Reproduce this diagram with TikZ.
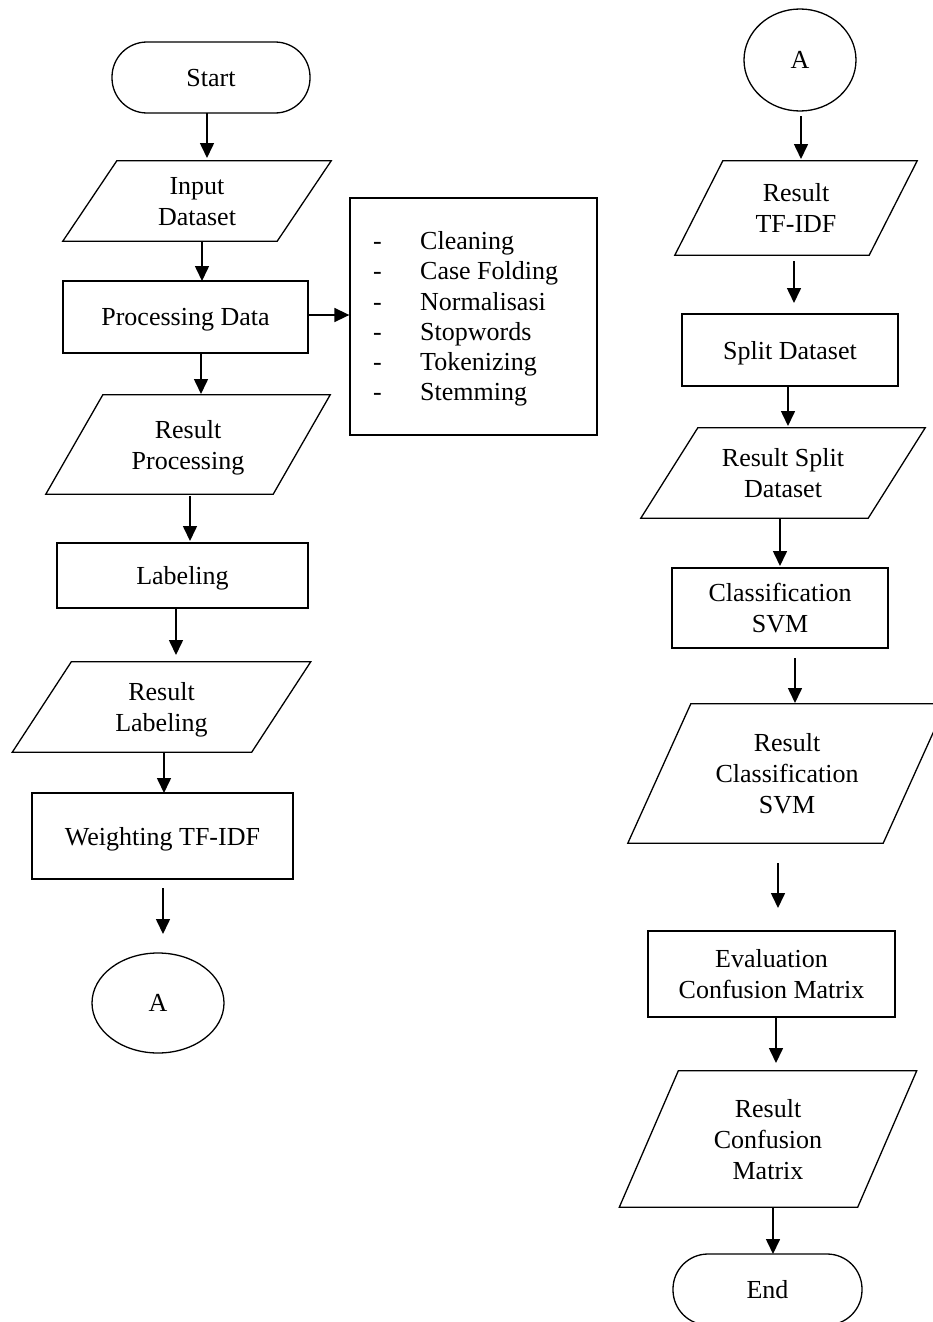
\documentclass[tikz,border=0pt]{standalone}
\usepackage{fontspec}
\setmainfont{Liberation Serif}
\usetikzlibrary{arrows.meta,shapes.geometric}
\tikzset{
  ln/.style={line width=1.3pt},
  every node/.style={font=\fontsize{26}{31}\selectfont},
  procbox/.style={draw, ln, rectangle, align=center, inner sep=0pt, text depth=0pt},
  termbox/.style={draw, ln, rectangle, rounded corners=35pt, align=center, inner sep=0pt, text depth=0pt},
  connbox/.style={draw, ln, ellipse, inner sep=0pt},
  iotext/.style={align=center, inner sep=0pt, text depth=0pt},
  arr/.style={line width=1.6pt, -{Triangle[width=14pt,length=15pt]}}
}
\newcommand{\iopara}[7]{%
  \node[iotext, minimum width=#4pt, minimum height=#5pt] (#1) at (#2,#3) {#7};
  \draw[ln, line join=miter] ([xshift=#6pt/2]#1.north west) -- ([xshift=#6pt/2]#1.north east)
    -- ([xshift=-#6pt/2]#1.south east) -- ([xshift=-#6pt/2]#1.south west) -- cycle;
}
\newcommand{\varrow}[4]{%
  \coordinate (#1s) at (#2,#3);
  \coordinate (#1e) at (#2,#4);
  \draw[arr] (#1s) -- (#1e);
}
\begin{document}
\begin{tikzpicture}[x=1pt,y=-1pt]
\useasboundingbox (0,0) rectangle (933,1322);
\clip (0,0) rectangle (933,1322);
\fill[white] (0,0) rectangle (933,1322);

% ---------- left column ----------
\node[termbox, minimum width=198pt, minimum height=71pt] (start) at (211,77.5) {Start};
\varrow{a1}{207}{113}{158}
\iopara{input}{197}{201}{214}{80}{54}{Input\\Dataset}
\varrow{a2}{202}{241}{281}
\node[procbox, minimum width=245pt, minimum height=72pt] (proc) at (185.5,317) {Processing Data};
\coordinate (a3s) at (308,315);
\node[procbox, minimum width=247pt, minimum height=237pt] (list) at (473.5,316.5) {};
\draw[arr] (a3s) -- (list.west |- a3s);
\node[anchor=west, align=left, inner sep=0pt, font=\fontsize{26}{30.2}\selectfont] (listtxt) at (373,319)
  {\makebox[47pt][l]{-}Cleaning\\
   \makebox[47pt][l]{-}Case Folding\\
   \makebox[47pt][l]{-}Normalisasi\\
   \makebox[47pt][l]{-}Stopwords\\
   \makebox[47pt][l]{-}Tokenizing\\
   \makebox[47pt][l]{-}Stemming};
\varrow{a4}{201}{353}{394}
\iopara{resproc}{188}{444.5}{227}{99}{57}{Result\\Processing}
\varrow{a5}{190}{496}{541}
\node[procbox, minimum width=251pt, minimum height=65pt] (label) at (182.5,575.5) {Labeling};
\varrow{a6}{176}{608}{655}
\iopara{reslab}{161.5}{707}{239}{90}{59}{Result\\Labeling}
\varrow{a7}{164}{752}{793}
\node[procbox, minimum width=261pt, minimum height=86pt] (tfidf) at (162.5,836) {Weighting TF-IDF};
\varrow{a8}{163}{888}{934}
\node[connbox, minimum width=132pt, minimum height=100pt] (conA1) at (158,1003) {A};

% ---------- right column ----------
\node[connbox, minimum width=112pt, minimum height=102pt] (conA2) at (800,60) {A};
\varrow{b1}{801}{116}{159}
\iopara{restf}{796}{208}{194}{94}{48}{Result\\TF-IDF}
\varrow{b2}{794}{261}{303}
\node[procbox, minimum width=216pt, minimum height=72pt] (split) at (790,350) {Split Dataset};
\varrow{b3}{788}{386}{426}
\iopara{ressplit}{783}{473}{227}{90}{57}{Result Split\\Dataset}
\varrow{b4}{780}{518}{566}
\node[procbox, minimum width=216pt, minimum height=80pt] (svm) at (780,608) {Classification\\SVM};
\varrow{b5}{795}{658}{703}
\iopara{ressvm}{787}{773.5}{255}{139}{63}{Result\\Classification\\SVM}
\varrow{b6}{778}{863}{908}
\node[procbox, minimum width=247pt, minimum height=86pt] (eval) at (771.5,974) {Evaluation\\Confusion Matrix};
\varrow{b7}{776}{1017}{1063}
\iopara{rescm}{768}{1139}{238}{136}{59}{Result\\Confusion\\Matrix}
\varrow{b8}{773}{1207}{1254}
\node[termbox, minimum width=189pt, minimum height=71pt] (endn) at (767.5,1289.5) {End};
\end{tikzpicture}
\end{document}
